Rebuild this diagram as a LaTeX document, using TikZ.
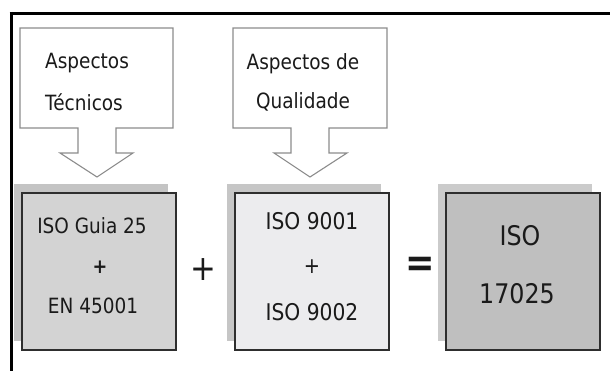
\documentclass[tikz,border=0pt]{standalone}
\usepackage{fontspec}
\setmainfont{DejaVu Sans}[FakeStretch=0.88]
\newfontfamily\boldsans{DejaVu Sans Bold}[FakeStretch=0.88]
\definecolor{calloutline}{HTML}{8C8C8C}
\definecolor{boxline}{HTML}{2E2E2E}
\definecolor{fillA}{HTML}{D3D3D3}
\definecolor{fillB}{HTML}{ECECEE}
\definecolor{fillC}{HTML}{BFBFBF}
\definecolor{shadeA}{HTML}{C4C4C4}
\definecolor{shadeB}{HTML}{C6C6C6}
\definecolor{shadeC}{HTML}{CBCBCB}
\definecolor{txt}{HTML}{1A1A1A}
\tikzset{
  callout/.style={draw=calloutline, line width=1.1pt, fill=white, line join=miter},
  stdbox/.style={draw=boxline, line width=1.6pt, minimum width=154pt, minimum height=157pt, inner sep=0pt},
  shadowbox/.style={minimum width=154pt, minimum height=157pt, inner sep=0pt},
  lbl/.style={inner sep=0pt, text=txt, anchor=base},
}
\begin{document}
\begin{tikzpicture}[x=1pt, y=-1pt]
\useasboundingbox (0,0) rectangle (610,371);
\fill[white] (0,0) rectangle (610,371);

% frame: top rule and left rule
\draw[line width=3pt] (9.5,13.5) -- (610,13.5);
\draw[line width=3.5pt] (11.5,12) -- (11.5,371);

% callout arrows
\draw[callout] (20,28) -- (173,28) -- (173,128) -- (116,128) -- (116,153) -- (133,153)
  -- (97,177) -- (60,153) -- (78,153) -- (78,128) -- (20,128) -- cycle;
\draw[callout] (233,28) -- (387,28) -- (387,128) -- (329,128) -- (329,153) -- (347,153)
  -- (310,177) -- (274,153) -- (291,153) -- (291,128) -- (233,128) -- cycle;

\node[lbl, anchor=base west, font=\fontsize{21}{24}\selectfont] (tec1) at (45,69) {Aspectos};
\node[lbl, anchor=base west, font=\fontsize{21}{24}\selectfont] (tec2) at (45,111) {Técnicos};
\node[lbl, font=\fontsize{21}{24}\selectfont] (qua1) at (303,70) {Aspectos de};
\node[lbl, font=\fontsize{21}{24}\selectfont] (qua2) at (303,109) {Qualidade};

% shadows behind the boxes
\node[shadowbox, fill=shadeA] (sA) at (91,262.5) {};
\node[shadowbox, fill=shadeB] (sB) at (304,262.5) {};
\node[shadowbox, fill=shadeC] (sC) at (515,262.5) {};

% boxes
\node[stdbox, fill=fillA] (bA) at (99,271.5) {};
\node[stdbox, fill=fillB] (bB) at (312,271.5) {};
\node[stdbox, fill=fillC] (bC) at (523,271.5) {};

% box contents
\node[lbl, font=\fontsize{21}{24}\selectfont] (a1) at (92,234) {ISO Guia 25};
\node[anchor=center, inner sep=0pt, text=txt, font=\boldsans\fontsize{20}{22}\selectfont] (a2) at (100,267) {+};
\node[lbl, font=\fontsize{21}{24}\selectfont] (a3) at (93,313) {EN 45001};

\node[lbl, font=\fontsize{23}{26}\selectfont] (b1) at (312,230) {ISO 9001};
\node[anchor=center, inner sep=0pt, text=txt, font=\fontsize{22}{24}\selectfont] (b2) at (312,267) {+};
\node[lbl, font=\fontsize{23}{26}\selectfont] (b3) at (312,320) {ISO 9002};

\node[lbl, font=\fontsize{27}{30}\selectfont] (c1) at (520,246) {ISO};
\node[lbl, font=\fontsize{27}{30}\selectfont] (c2) at (517,303) {17025};

% operators between the boxes
\node[anchor=center, inner sep=0pt, text=txt, font=\fontsize{35}{38}\selectfont] (plus) at (203,270) {+};
\node[anchor=center, inner sep=0pt, text=txt, font=\boldsans\fontsize{40}{44}\selectfont] (eq) at (420,267) {=};
\end{tikzpicture}
\end{document}
